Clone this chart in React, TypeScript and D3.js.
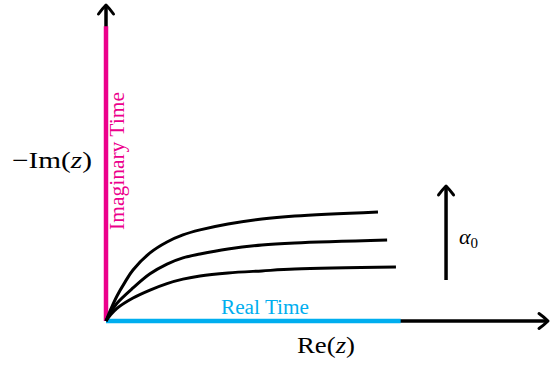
import * as d3 from 'd3';
import React from 'react';

// curve points, in (Re, -Im) units
const upperRe = [0, 0.15, 0.373, 0.645, 0.916, 1.493, 2.07, 2.61, 3.19, 4.14, 5.29, 6.41, 9.23];
const upperIm = [0, 0.37, 0.85, 1.32, 1.73, 2.31, 2.68, 2.92, 3.09, 3.29, 3.46, 3.56, 3.7];

const middleRe = [0, 0.15, 0.373, 0.916, 1.493, 2.07, 2.61, 3.19, 4.14, 5.29, 6.41, 9.54];
const middleIm = [0, 0.27, 0.6, 1.12, 1.6, 1.93, 2.14, 2.27, 2.44, 2.58, 2.65, 2.75];

const lowerRe = [0, 0.15, 0.373, 0.916, 1.493, 2.07, 2.61, 3.19, 4.14, 5.29, 6.41, 9.84];
const lowerIm = [0, 0.2, 0.43, 0.78, 1.05, 1.27, 1.42, 1.53, 1.63, 1.7, 1.76, 1.83];

const realTimeEnd = 10;
const imagTimeEnd = 10;
const reMax = 15;
const imMax = 10.72;

// the alpha_0 arrow
const alphaRe = 11.54;
const alphaFrom = 1.39;
const alphaTo = 4.58;

const width = 557;
const height = 367;
const serif = "'Liberation Serif', 'DejaVu Serif', serif";

const toPoints = (re: number[], im: number[]) => re.map((r, i) => [r, im[i]] as [number, number]);

const Arrowhead = ({ x, y, angle }: { x: number; y: number; angle: number }) => (
  <path
    transform={`translate(${x},${y}) rotate(${angle})`}
    d="M -7.5 9 C -5 5.5 -2 2 0 0 C 2 2 5 5.5 7.5 9"
    fill="none"
    stroke="black"
    strokeWidth={3}
    strokeLinecap="round"
    strokeLinejoin="round"
  />
);

const App = () => {
  const x = d3.scaleLinear([0, reMax], [106, 548]);
  const y = d3.scaleLinear([0, imMax], [321, 5]);

  const line = d3
    .line<[number, number]>()
    .x((d) => x(d[0]))
    .y((d) => y(d[1]))
    .curve(d3.curveCatmullRom.alpha(0.5));

  const curves = [
    toPoints(upperRe, upperIm),
    toPoints(middleRe, middleIm),
    toPoints(lowerRe, lowerIm),
  ];

  return (
    <svg width={width} height={height} style={{ position: 'absolute', left: 0, top: 0 }}>
      <rect width={width} height={height} fill="white" />

      {/* axes */}
      <line x1={x(0)} y1={y(0)} x2={x(0)} y2={y(imMax) + 1} stroke="black" strokeWidth={3.5} />
      <line x1={x(0)} y1={y(0)} x2={x(reMax) - 1} y2={y(0)} stroke="black" strokeWidth={3.5} />
      <Arrowhead x={x(0)} y={y(imMax)} angle={0} />
      <Arrowhead x={x(reMax)} y={y(0)} angle={90} />

      {/* imaginary and real time contours */}
      <line x1={x(0)} y1={y(0)} x2={x(0)} y2={y(imagTimeEnd)} stroke="#EC008C" strokeWidth={4.5} />
      <line x1={x(0)} y1={y(0)} x2={x(realTimeEnd)} y2={y(0)} stroke="#00AEEF" strokeWidth={4.5} />

      {curves.map((c, i) => (
        <path key={i} d={line(c) ?? ''} fill="none" stroke="black" strokeWidth={3} />
      ))}

      {/* alpha_0 arrow */}
      <line x1={x(alphaRe)} y1={y(alphaFrom)} x2={x(alphaRe)} y2={y(alphaTo) + 1} stroke="black" strokeWidth={3.5} />
      <Arrowhead x={x(alphaRe)} y={y(alphaTo)} angle={0} />

      <g fontFamily={serif} fill="black">
        <text x={12} y={168} fontSize={23} textLength={80} lengthAdjust="spacingAndGlyphs">
          −Im(<tspan fontStyle="italic">z</tspan>)
        </text>
        <text x={297} y={353} fontSize={23} textLength={58} lengthAdjust="spacingAndGlyphs">
          Re(<tspan fontStyle="italic">z</tspan>)
        </text>
        <text x={459} y={244} fontSize={22}>
          <tspan fontStyle="italic">α</tspan>
          <tspan fontSize={15} dy={4}>0</tspan>
        </text>
        <text x={221} y={314} fontSize={20} fill="#00AEEF" textLength={88} lengthAdjust="spacingAndGlyphs">
          Real Time
        </text>
        <text
          transform={`translate(124,230) rotate(-90)`}
          fontSize={20}
          fill="#EC008C"
          textLength={138}
          lengthAdjust="spacingAndGlyphs"
        >
          Imaginary Time
        </text>
      </g>
    </svg>
  );
};

export default App;
